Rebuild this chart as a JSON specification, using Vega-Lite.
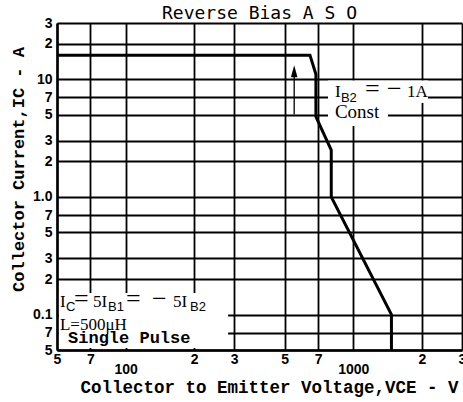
{
  "$schema": "https://vega.github.io/schema/vega-lite/v6.json",
  "width": 405,
  "height": 327,
  "autosize": {"type": "none"},
  "padding": {"left": 57, "top": 23, "right": 1, "bottom": 52},
  "background": "white",
  "config": {"view": {"stroke": null}},
  "title": {
    "text": "Reverse Bias A S O",
    "font": "DejaVu Sans Mono",
    "fontSize": 18,
    "fontWeight": "normal",
    "color": "black",
    "anchor": "middle",
    "frame": "group",
    "offset": 3,
    "dy": 28,
    "baseline": "bottom"
  },
  "datasets": {
    "curve": [
      {"i": 0, "v": 50, "c": 16},
      {"i": 1, "v": 645, "c": 16},
      {"i": 2, "v": 685, "c": 11},
      {"i": 3, "v": 685, "c": 4.8},
      {"i": 4, "v": 800, "c": 2.5},
      {"i": 5, "v": 800, "c": 1.0},
      {"i": 6, "v": 1470, "c": 0.1},
      {"i": 7, "v": 1470, "c": 0.05}
    ],
    "masks": [
      {"v": 51, "v2": 282, "c": 0.052, "c2": 0.1525},
      {"v": 774, "v2": 2126, "c": 6.27, "c2": 9.75},
      {"v": 774, "v2": 1419, "c": 4.0, "c2": 6.27}
    ],
    "arrow": [{"v": 550, "c": 5, "c2": 10.5}],
    "head": [{"v": 550, "c": 11.7}],
    "mainText": [
      {"v": 51.5, "c": 0.116, "t": "I"},
      {"v": 71.9, "c": 0.116, "t": "5I"},
      {"v": 161.5, "c": 0.116, "t": "5I"},
      {"v": 51.5, "c": 0.074, "t": "L=500μH"},
      {"v": 830, "c": 7.05, "t": "I"},
      {"v": 1720, "c": 7.05, "t": "1A"}
    ],
    "signText": [
      {"v": 59.4, "c": 0.116, "t": "="},
      {"v": 100.4, "c": 0.116, "t": "="},
      {"v": 130.6, "c": 0.116, "t": "−"},
      {"v": 1125, "c": 7.05, "t": "="},
      {"v": 1405, "c": 7.05, "t": "−"}
    ],
    "subText": [
      {"v": 54.8, "c": 0.107, "t": "C"},
      {"v": 83.7, "c": 0.107, "t": "B1"},
      {"v": 191.8, "c": 0.107, "t": "B2"},
      {"v": 882, "c": 6.4, "t": "B2"}
    ],
    "monoText": [{"v": 55.9, "c": 0.0573, "t": "Single Pulse"}],
    "constText": [{"v": 830, "c": 4.68, "t": "Const"}]
  },
  "encoding": {
    "x": {
      "field": "v",
      "type": "quantitative",
      "scale": {"type": "log", "domain": [50, 3000], "nice": false, "zero": false},
      "axis": {
        "title": "Collector to Emitter Voltage,VCE - V",
        "titleFont": "Liberation Mono",
        "titleFontWeight": "bold",
        "titleFontSize": 17.5,
        "titleColor": "black",
        "titleX": 23,
        "titleY": 42,
        "titleAlign": "left",
        "titleAnchor": "start",
        "titleBaseline": "alphabetic",
        "values": [50, 70, 100, 200, 300, 500, 700, 1000, 2000, 3000],
        "labelExpr": "datum.value == 100 ? ['', '100'] : datum.value == 1000 ? ['', '1000'] : substring(format(datum.value, '.0e'), 0, 1)",
        "labelFont": "Liberation Sans",
        "labelFontWeight": "bold",
        "labelFontSize": 14,
        "labelColor": "black",
        "labelFlush": false,
        "labelOverlap": false,
        "labelBound": false,
        "labelPadding": 2,
        "labelBaseline": "top",
        "labelLineHeight": 10,
        "ticks": false,
        "domain": true,
        "domainColor": "black",
        "domainWidth": 2.5,
        "grid": true,
        "gridColor": "black",
        "gridWidth": 1.8,
        "gridOpacity": 1
      }
    },
    "y": {
      "field": "c",
      "type": "quantitative",
      "scale": {"type": "log", "domain": [0.05, 30], "nice": false, "zero": false},
      "axis": {
        "title": "Collector Current,IC - A",
        "titleFont": "Liberation Mono",
        "titleFontWeight": "bold",
        "titleFontSize": 17,
        "titleColor": "black",
        "titleX": -39,
        "titleY": 146,
        "titleAngle": 270,
        "titleAlign": "center",
        "titleBaseline": "middle",
        "values": [0.05, 0.07, 0.1, 0.2, 0.3, 0.5, 0.7, 1, 2, 3, 5, 7, 10, 20, 30],
        "labelExpr": "datum.value == 10 ? '10' : datum.value == 1 ? '1.0' : datum.value == 0.1 ? '0.1' : substring(format(datum.value, '.0e'), 0, 1)",
        "labelFont": "Liberation Sans",
        "labelFontWeight": "bold",
        "labelFontSize": 14,
        "labelColor": "black",
        "labelOverlap": false,
        "labelBound": false,
        "labelFlush": false,
        "labelPadding": 5,
        "ticks": false,
        "domain": true,
        "domainColor": "black",
        "domainWidth": 2.5,
        "grid": true,
        "gridColor": "black",
        "gridWidth": 1.8,
        "gridOpacity": 1
      }
    }
  },
  "layer": [
    {
      "data": {"name": "masks"},
      "mark": {"type": "rect", "fill": "white", "stroke": null},
      "encoding": {"x2": {"field": "v2"}, "y2": {"field": "c2"}}
    },
    {
      "data": {"name": "curve"},
      "mark": {"type": "line", "color": "black", "strokeWidth": 3},
      "encoding": {"order": {"field": "i", "type": "quantitative"}}
    },
    {
      "data": {"name": "arrow"},
      "mark": {"type": "rule", "color": "black", "strokeWidth": 1.3},
      "encoding": {"y2": {"field": "c2"}}
    },
    {
      "data": {"name": "head"},
      "mark": {"type": "point", "shape": "M0,-1L0.55,1L-0.55,1Z", "filled": true, "color": "black", "opacity": 1, "size": 144},
      "encoding": {}
    },
    {
      "data": {"name": "mainText"},
      "mark": {"type": "text", "font": "Liberation Serif", "fontSize": 17, "align": "left", "baseline": "alphabetic", "color": "black"},
      "encoding": {"text": {"field": "t"}}
    },
    {
      "data": {"name": "signText"},
      "mark": {"type": "text", "font": "Liberation Serif", "fontSize": 26, "align": "left", "baseline": "alphabetic", "color": "black"},
      "encoding": {"text": {"field": "t"}}
    },
    {
      "data": {"name": "subText"},
      "mark": {"type": "text", "font": "Liberation Sans", "fontSize": 13, "align": "left", "baseline": "alphabetic", "color": "black"},
      "encoding": {"text": {"field": "t"}}
    },
    {
      "data": {"name": "monoText"},
      "mark": {"type": "text", "font": "Liberation Mono", "fontWeight": "bold", "fontSize": 17, "align": "left", "baseline": "alphabetic", "color": "black"},
      "encoding": {"text": {"field": "t"}}
    },
    {
      "data": {"name": "constText"},
      "mark": {"type": "text", "font": "Liberation Serif", "fontSize": 19, "align": "left", "baseline": "alphabetic", "color": "black"},
      "encoding": {"text": {"field": "t"}}
    }
  ]
}
